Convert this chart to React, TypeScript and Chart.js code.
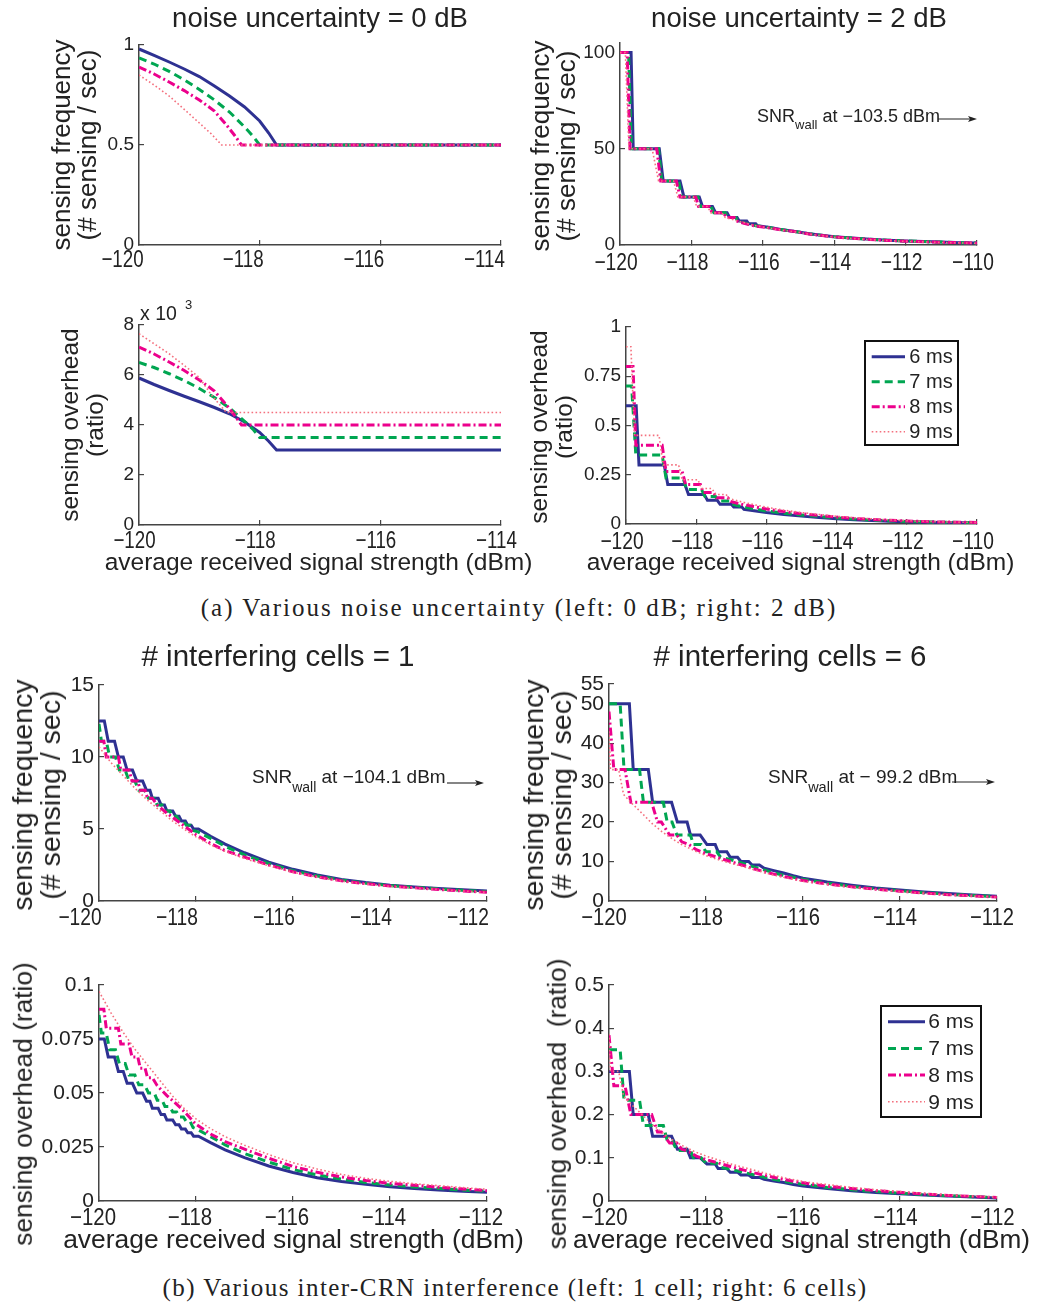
import React, { useEffect, useRef } from 'react';
import { Chart, registerables } from 'chart.js';
Chart.register(...registerables);

type P = [number, number][];

const FONT = "'Liberation Sans', Arial, Helvetica, sans-serif";
const SERIF = "'Liberation Serif', 'Times New Roman', serif";

const LABELS = ['6 ms', '7 ms', '8 ms', '9 ms'];
const COLORS = ['#2E3192', '#00A651', '#EC008C', '#F4707E'];
const DASHES: number[][] = [[], [8, 5], [8, 3, 2, 3], [1.6, 2.4]];
const WIDTHS = [3, 3, 3, 1.6];

// ---- tick arrays ----
const X_A1 = [-120, -118, -116, -114];
const X_A2 = [-120, -118, -116, -114, -112, -110];
const X_B = [-120, -118, -116, -114, -112];
const Y_A1 = [0, 0.5, 1];
const Y_A2 = [0, 50, 100];
const Y_A3 = [0, 2, 4, 6, 8];
const Y_A4 = [0, 0.25, 0.5, 0.75, 1];
const Y_B1 = [0, 5, 10, 15];
const Y_B2 = [0, 10, 20, 30, 40, 50, 55];
const Y_B3 = [0, 0.025, 0.05, 0.075, 0.1];
const Y_B4 = [0, 0.1, 0.2, 0.3, 0.4, 0.5];

// ---- (a) noise uncertainty = 0 dB : sensing frequency ----
const A1_6: P = [[-120,0.98],[-119.75,0.948],[-119.5,0.915],[-119.25,0.88],[-119,0.842],[-118.75,0.795],[-118.5,0.745],[-118.25,0.69],[-118,0.62],[-117.85,0.56],[-117.72,0.5],[-114,0.5]];
const A1_7: P = [[-120,0.935],[-119.75,0.905],[-119.5,0.868],[-119.25,0.826],[-119,0.778],[-118.75,0.725],[-118.5,0.665],[-118.25,0.59],[-118.1,0.54],[-118,0.5],[-114,0.5]];
const A1_8: P = [[-120,0.89],[-119.75,0.855],[-119.5,0.815],[-119.25,0.772],[-119,0.725],[-118.75,0.67],[-118.55,0.6],[-118.42,0.55],[-118.3,0.5],[-114,0.5]];
const A1_9: P = [[-120,0.85],[-119.75,0.8],[-119.5,0.745],[-119.25,0.678],[-119,0.61],[-118.8,0.555],[-118.63,0.5],[-114,0.5]];

// ---- noise uncertainty = 2 dB : sensing frequency ----
const A2_6: P = [[-120,100],[-119.69,100],[-119.63,50],[-118.9,50],[-118.79,33.3],[-118.32,33.3],[-118.21,25],[-117.78,25],[-117.69,20],[-117.41,20],[-117.32,16.7],[-117,16.7],[-116.93,14.3],[-116.72,14.3],[-116.66,12.5],[-116.45,12.5],[-116.4,11.1],[-116.2,11.1],[-116.15,10],[-115.8,9.1],[-115.5,8.1],[-115,6.8],[-114.7,5.8],[-114,4.3],[-113.5,3.6],[-113,3.0],[-112.5,2.5],[-112,2.1],[-111.5,1.8],[-111,1.5],[-110.5,1.2],[-110,1.0]];
const A2_7: P = [[-120,100],[-119.76,100],[-119.68,50],[-118.92,50],[-118.83,33.3],[-118.36,33.3],[-118.27,25],[-117.82,25],[-117.74,20],[-117.45,20],[-117.37,16.7],[-117.05,16.7],[-116.98,14.3],[-116.76,14.3],[-116.7,12.5],[-116.45,11.1],[-116.2,10],[-115.8,9.0],[-115.5,8.0],[-115,6.8],[-114.7,5.8],[-114,4.3],[-113.5,3.6],[-113,3.0],[-112.5,2.5],[-112,2.1],[-111.5,1.8],[-111,1.5],[-110.5,1.2],[-110,1.0]];
const A2_8: P = [[-120,100],[-119.8,100],[-119.72,50],[-118.97,50],[-118.86,33.3],[-118.42,33.3],[-118.32,25],[-117.88,25],[-117.8,20],[-117.5,20],[-117.42,16.7],[-117.1,16.7],[-117.02,14.3],[-116.8,14.3],[-116.74,12.5],[-116.5,11.1],[-116.25,10],[-115.85,9.0],[-115.5,7.9],[-115,6.7],[-114.7,5.7],[-114,4.2],[-113.5,3.5],[-113,2.9],[-112.5,2.4],[-112,2.0],[-111.5,1.7],[-111,1.4],[-110.5,1.2],[-110,1.0]];
const A2_9: P = [[-120,100],[-119.85,100],[-119.75,50],[-119.1,50],[-118.92,33.3],[-118.5,33.3],[-118.38,25],[-117.95,25],[-117.85,20],[-117.55,20],[-117.45,16.7],[-117.15,16.7],[-117.05,14.3],[-116.8,13.0],[-116.5,11.5],[-116.25,10.2],[-115.85,8.9],[-115.5,7.8],[-115,6.6],[-114.7,5.6],[-114,4.1],[-113.5,3.4],[-113,2.8],[-112.5,2.3],[-112,1.9],[-111.5,1.6],[-111,1.3],[-110.5,1.1],[-110,0.9]];

// ---- noise uncertainty = 0 dB : sensing overhead (x 10^-3) ----
const A3_6: P = [[-120,5.88],[-119.75,5.62],[-119.5,5.38],[-119.25,5.15],[-119,4.93],[-118.75,4.7],[-118.5,4.45],[-118.25,4.12],[-118,3.7],[-117.85,3.35],[-117.72,3.0],[-114,3.0]];
const A3_7: P = [[-120,6.5],[-119.75,6.3],[-119.5,6.05],[-119.25,5.78],[-119,5.46],[-118.75,5.1],[-118.5,4.68],[-118.25,4.15],[-118.1,3.8],[-118,3.5],[-114,3.5]];
const A3_8: P = [[-120,7.12],[-119.75,6.84],[-119.5,6.52],[-119.25,6.18],[-119,5.8],[-118.75,5.36],[-118.55,4.8],[-118.42,4.4],[-118.3,4.0],[-114,4.0]];
const A3_9: P = [[-120,7.65],[-119.75,7.25],[-119.5,6.85],[-119.25,6.38],[-119,5.9],[-118.8,5.2],[-118.55,4.5],[-114,4.5]];

// ---- noise uncertainty = 2 dB : sensing overhead ----
const A4_6: P = [[-120,0.6],[-119.71,0.6],[-119.63,0.3],[-118.91,0.3],[-118.81,0.2],[-118.32,0.2],[-118.22,0.15],[-117.77,0.15],[-117.68,0.12],[-117.4,0.12],[-117.32,0.1],[-117,0.1],[-116.93,0.086],[-116.7,0.086],[-116.64,0.075],[-116.4,0.068],[-116,0.058],[-115.5,0.048],[-115,0.04],[-114.5,0.033],[-114,0.027],[-113.5,0.022],[-113,0.018],[-112.5,0.014],[-112,0.011],[-111,0.008],[-110,0.006]];
const A4_7: P = [[-120,0.7],[-119.84,0.7],[-119.72,0.35],[-118.97,0.35],[-118.86,0.233],[-118.37,0.233],[-118.28,0.175],[-117.85,0.175],[-117.75,0.14],[-117.45,0.14],[-117.37,0.117],[-117.05,0.117],[-116.98,0.1],[-116.7,0.088],[-116.4,0.078],[-116,0.066],[-115.5,0.055],[-115,0.046],[-114.5,0.038],[-114,0.031],[-113.5,0.025],[-113,0.02],[-112.5,0.016],[-112,0.013],[-111,0.009],[-110,0.007]];
const A4_8: P = [[-120,0.8],[-119.8,0.8],[-119.72,0.4],[-118.97,0.4],[-118.86,0.267],[-118.4,0.267],[-118.3,0.2],[-117.88,0.2],[-117.8,0.16],[-117.5,0.16],[-117.42,0.133],[-117.1,0.133],[-117.02,0.114],[-116.7,0.1],[-116.4,0.09],[-116,0.076],[-115.5,0.063],[-115,0.052],[-114.5,0.043],[-114,0.035],[-113.5,0.028],[-113,0.023],[-112.5,0.019],[-112,0.015],[-111,0.01],[-110,0.008]];
const A4_9: P = [[-120,0.9],[-119.86,0.9],[-119.76,0.45],[-119.06,0.45],[-118.94,0.3],[-118.5,0.3],[-118.4,0.225],[-117.95,0.225],[-117.85,0.18],[-117.55,0.18],[-117.45,0.15],[-117.15,0.15],[-117.05,0.128],[-116.7,0.112],[-116.4,0.1],[-116,0.085],[-115.5,0.07],[-115,0.058],[-114.5,0.048],[-114,0.039],[-113.5,0.032],[-113,0.026],[-112.5,0.021],[-112,0.017],[-111,0.011],[-110,0.008]];

// ---- (b) # interfering cells = 1 : sensing frequency ----
const B1_6: P = [[-120,12.5],[-119.89,12.5],[-119.81,11.1],[-119.68,11.1],[-119.6,10],[-119.5,10],[-119.42,9.09],[-119.31,9.09],[-119.22,8.33],[-119.1,8.33],[-119.02,7.69],[-118.95,7.69],[-118.9,7.14],[-118.78,7.14],[-118.72,6.67],[-118.65,6.67],[-118.6,6.25],[-118.48,6.25],[-118.42,5.88],[-118.35,5.88],[-118.3,5.56],[-118.22,5.56],[-118.17,5.26],[-118.1,5.26],[-118.05,5.0],[-117.95,5.0],[-117.7,4.5],[-117.4,3.95],[-117,3.35],[-116.5,2.7],[-116,2.2],[-115.5,1.8],[-115,1.5],[-114.5,1.28],[-114,1.1],[-113.5,0.98],[-113,0.87],[-112.5,0.78],[-112,0.7]];
const B1_7: P = [[-120,12.3],[-119.95,11.1],[-119.85,11.1],[-119.78,10],[-119.66,10],[-119.58,9.09],[-119.46,9.09],[-119.38,8.33],[-119.26,8.33],[-119.18,7.69],[-119.06,7.69],[-118.98,7.14],[-118.86,7.14],[-118.8,6.67],[-118.7,6.67],[-118.64,6.25],[-118.54,6.25],[-118.48,5.88],[-118.4,5.88],[-118.34,5.56],[-118.26,5.56],[-118.2,5.26],[-118.12,5.26],[-118.06,4.9],[-117.96,4.8],[-117.7,4.35],[-117.4,3.8],[-117,3.2],[-116.5,2.6],[-116,2.1],[-115.5,1.74],[-115,1.45],[-114.5,1.24],[-114,1.07],[-113.5,0.95],[-113,0.84],[-112.5,0.74],[-112,0.65]];
const B1_8: P = [[-120,11.1],[-119.9,11.1],[-119.85,10],[-119.6,10],[-119.55,9.09],[-119.38,9.09],[-119.32,8.33],[-119.2,8.33],[-119.15,7.69],[-119.05,7.69],[-119,7.14],[-118.9,7.14],[-118.8,6.67],[-118.6,6.1],[-118.3,5.35],[-118,4.6],[-117.7,4.0],[-117.4,3.5],[-117,3.05],[-116.5,2.5],[-116,2.03],[-115.5,1.68],[-115,1.4],[-114.5,1.2],[-114,1.04],[-113.5,0.92],[-113,0.8],[-112.5,0.7],[-112,0.6]];
const B1_9: P = [[-120,10.7],[-119.75,9.6],[-119.5,8.7],[-119.25,7.8],[-119,7.0],[-118.75,6.3],[-118.5,5.6],[-118.25,5.0],[-118,4.45],[-117.7,3.9],[-117.4,3.45],[-117,2.95],[-116.5,2.45],[-116,2.0],[-115.5,1.66],[-115,1.38],[-114.5,1.18],[-114,1.02],[-113.5,0.9],[-113,0.8],[-112.5,0.7],[-112,0.6]];

// ---- # interfering cells = 6 : sensing frequency ----
const B2_6: P = [[-120,50],[-119.58,50],[-119.5,33.3],[-119.19,33.3],[-119.1,25],[-118.71,25],[-118.59,20],[-118.39,20],[-118.32,16.7],[-118.12,16.7],[-117.98,14.3],[-117.81,14.3],[-117.75,12.5],[-117.57,12.5],[-117.5,11.1],[-117.35,11.1],[-117.28,10],[-117.12,10],[-117.05,9.1],[-116.9,9.1],[-116.8,8.3],[-116.6,7.7],[-116.4,7.1],[-116.2,6.4],[-116,5.8],[-115.5,4.8],[-115,4.0],[-114.5,3.3],[-114,2.8],[-113.5,2.3],[-113,1.9],[-112.5,1.5],[-112,1.2]];
const B2_7: P = [[-120,50],[-119.77,50],[-119.69,33.3],[-119.37,33.3],[-119.29,25],[-118.88,25],[-118.8,20],[-118.7,20],[-118.6,16.7],[-118.32,16.7],[-118.26,14.3],[-118.1,14.3],[-118,12.5],[-117.78,12.5],[-117.7,11.1],[-117.5,10.5],[-117.2,9.4],[-117,8.6],[-116.7,7.5],[-116.4,6.5],[-116,5.5],[-115.5,4.5],[-115,3.7],[-114.5,3.1],[-114,2.6],[-113.5,2.1],[-113,1.7],[-112.5,1.4],[-112,1.1]];
const B2_8: P = [[-120,48],[-119.9,33.3],[-119.67,33.3],[-119.55,25],[-119.12,25],[-119,20],[-118.92,20],[-118.75,16.7],[-118.6,16.7],[-118.5,15],[-118.35,14.3],[-118.2,13],[-118,12],[-117.75,11],[-117.5,10],[-117.2,8.9],[-117,8.1],[-116.7,7.1],[-116.4,6.2],[-116,5.2],[-115.5,4.3],[-115,3.6],[-114.5,3.0],[-114,2.5],[-113.5,2.0],[-113,1.6],[-112.5,1.3],[-112,1.0]];
const B2_9: P = [[-120,43],[-119.97,33.3],[-119.8,33.3],[-119.7,27],[-119.55,25],[-119.3,22],[-119.1,19.5],[-118.9,17.5],[-118.7,15.8],[-118.5,14.3],[-118.25,12.8],[-118,11.5],[-117.75,10.5],[-117.5,9.6],[-117.2,8.6],[-117,7.9],[-116.7,6.9],[-116.4,6.0],[-116,5.0],[-115.5,4.2],[-115,3.5],[-114.5,2.9],[-114,2.4],[-113.5,1.95],[-113,1.55],[-112.5,1.25],[-112,1.0]];

// ---- # interfering cells = 1 : sensing overhead ----
const B3_6: P = [[-120,0.075],[-119.89,0.075],[-119.81,0.0667],[-119.68,0.0667],[-119.6,0.06],[-119.5,0.06],[-119.42,0.0545],[-119.31,0.0545],[-119.22,0.05],[-119.1,0.05],[-119.02,0.0462],[-118.95,0.0462],[-118.9,0.0429],[-118.78,0.0429],[-118.72,0.04],[-118.65,0.04],[-118.6,0.0375],[-118.48,0.0375],[-118.42,0.0353],[-118.35,0.0353],[-118.3,0.0333],[-118.22,0.0333],[-118.17,0.0316],[-118.1,0.0316],[-118.05,0.03],[-117.95,0.03],[-117.7,0.027],[-117.4,0.0237],[-117,0.0201],[-116.5,0.0162],[-116,0.0132],[-115.5,0.0108],[-115,0.009],[-114.5,0.0077],[-114,0.0066],[-113.5,0.0058],[-113,0.0051],[-112.5,0.0045],[-112,0.004]];
const B3_7: P = [[-120,0.0861],[-119.95,0.0778],[-119.85,0.0778],[-119.78,0.07],[-119.66,0.07],[-119.58,0.0636],[-119.46,0.0636],[-119.38,0.0583],[-119.26,0.0583],[-119.18,0.0538],[-119.06,0.0538],[-118.98,0.05],[-118.86,0.05],[-118.8,0.0467],[-118.7,0.0467],[-118.64,0.0438],[-118.54,0.0438],[-118.48,0.0412],[-118.4,0.0412],[-118.34,0.0389],[-118.26,0.0389],[-118.2,0.0368],[-118.12,0.0368],[-118.06,0.034],[-117.96,0.033],[-117.7,0.0298],[-117.4,0.026],[-117,0.022],[-116.5,0.018],[-116,0.0146],[-115.5,0.0121],[-115,0.0101],[-114.5,0.0086],[-114,0.0074],[-113.5,0.0065],[-113,0.0058],[-112.5,0.0051],[-112,0.0045]];
const B3_8: P = [[-120,0.0888],[-119.9,0.0888],[-119.85,0.08],[-119.6,0.08],[-119.55,0.0727],[-119.38,0.0727],[-119.32,0.0667],[-119.2,0.0667],[-119.15,0.0615],[-119.05,0.0615],[-119,0.0571],[-118.9,0.0571],[-118.8,0.0534],[-118.6,0.0488],[-118.3,0.0428],[-118,0.0355],[-117.7,0.031],[-117.4,0.0275],[-117,0.024],[-116.5,0.0198],[-116,0.016],[-115.5,0.0133],[-115,0.0111],[-114.5,0.0095],[-114,0.0082],[-113.5,0.0073],[-113,0.0064],[-112.5,0.0056],[-112,0.0048]];
const B3_9: P = [[-120,0.097],[-119.75,0.087],[-119.5,0.078],[-119.25,0.07],[-119,0.063],[-118.75,0.056],[-118.5,0.049],[-118.25,0.043],[-118,0.038],[-117.7,0.0335],[-117.4,0.0298],[-117,0.0258],[-116.5,0.0215],[-116,0.0177],[-115.5,0.0148],[-115,0.0123],[-114.5,0.0105],[-114,0.0091],[-113.5,0.008],[-113,0.0071],[-112.5,0.0062],[-112,0.0054]];

// ---- # interfering cells = 6 : sensing overhead ----
const B4_6: P = [[-120,0.3],[-119.58,0.3],[-119.5,0.2],[-119.19,0.2],[-119.1,0.15],[-118.71,0.15],[-118.59,0.12],[-118.39,0.12],[-118.32,0.1],[-118.12,0.1],[-117.98,0.0857],[-117.81,0.0857],[-117.75,0.075],[-117.57,0.075],[-117.5,0.0667],[-117.35,0.0667],[-117.28,0.06],[-117.12,0.06],[-117.05,0.0545],[-116.9,0.0545],[-116.8,0.05],[-116.6,0.046],[-116.4,0.0426],[-116.2,0.0384],[-116,0.0348],[-115.5,0.0288],[-115,0.024],[-114.5,0.0198],[-114,0.0168],[-113.5,0.0138],[-113,0.0114],[-112.5,0.009],[-112,0.0072]];
const B4_7: P = [[-120,0.35],[-119.77,0.35],[-119.69,0.233],[-119.37,0.233],[-119.29,0.175],[-118.88,0.175],[-118.8,0.14],[-118.7,0.14],[-118.6,0.117],[-118.32,0.117],[-118.26,0.1],[-118.1,0.1],[-118,0.0875],[-117.78,0.0875],[-117.7,0.0778],[-117.5,0.0735],[-117.2,0.0658],[-117,0.0602],[-116.7,0.0525],[-116.4,0.0455],[-116,0.0385],[-115.5,0.0315],[-115,0.0259],[-114.5,0.0217],[-114,0.0182],[-113.5,0.0147],[-113,0.0119],[-112.5,0.0098],[-112,0.0077]];
const B4_8: P = [[-120,0.384],[-119.9,0.267],[-119.67,0.267],[-119.55,0.2],[-119.12,0.2],[-119,0.16],[-118.92,0.16],[-118.75,0.134],[-118.6,0.134],[-118.5,0.12],[-118.35,0.114],[-118.2,0.104],[-118,0.096],[-117.75,0.088],[-117.5,0.08],[-117.2,0.071],[-117,0.065],[-116.7,0.057],[-116.4,0.05],[-116,0.042],[-115.5,0.034],[-115,0.029],[-114.5,0.024],[-114,0.02],[-113.5,0.016],[-113,0.013],[-112.5,0.0104],[-112,0.008]];
const B4_9: P = [[-120,0.387],[-119.97,0.3],[-119.8,0.3],[-119.7,0.243],[-119.55,0.225],[-119.3,0.198],[-119.1,0.176],[-118.9,0.158],[-118.7,0.142],[-118.5,0.129],[-118.25,0.115],[-118,0.104],[-117.75,0.095],[-117.5,0.086],[-117.2,0.077],[-117,0.071],[-116.7,0.062],[-116.4,0.054],[-116,0.045],[-115.5,0.038],[-115,0.0315],[-114.5,0.026],[-114,0.0216],[-113.5,0.0176],[-113,0.014],[-112.5,0.0113],[-112,0.009]];

interface LegendSpec { right: number; top: number; w: number; h: number; first: number; step: number; l1: number; l2: number; tx: number; size: number; }
interface PanelSpec {
  left: number; top: number; right: number; bottom: number;
  xMin: number; xMax: number; yMin: number; yMax: number;
  xTicks: number[]; yTicks: number[]; series: P[];
  tick: number; xTick: number; xScaleX: number; xOff: number; xCy: number; legend?: LegendSpec;
}

const ML = 72, MT = 14, MR = 24, MB = 40;

function legendPlugin(lg?: LegendSpec) {
  return {
    id: 'boxLegend',
    afterDatasetsDraw(chart: any) {
      if (!lg) return;
      const { ctx, chartArea } = chart;
      const x0 = chartArea.right - lg.right - lg.w;
      const y0 = chartArea.top + lg.top;
      ctx.save();
      ctx.fillStyle = '#fff';
      ctx.fillRect(x0, y0, lg.w, lg.h);
      ctx.setLineDash([]);
      ctx.strokeStyle = '#111';
      ctx.lineWidth = 2;
      ctx.strokeRect(x0, y0, lg.w, lg.h);
      chart.data.datasets.forEach((ds: any, i: number) => {
        const y = y0 + lg.first + i * lg.step;
        ctx.strokeStyle = ds.borderColor;
        ctx.lineWidth = ds.borderWidth;
        ctx.setLineDash(ds.borderDash || []);
        ctx.beginPath();
        ctx.moveTo(x0 + lg.l1, y);
        ctx.lineTo(x0 + lg.l2, y);
        ctx.stroke();
        ctx.setLineDash([]);
        ctx.fillStyle = '#222';
        ctx.font = `${lg.size}px ${FONT}`;
        ctx.textBaseline = 'middle';
        ctx.textAlign = 'left';
        ctx.fillText(ds.label, x0 + lg.tx, y + 1);
      });
      ctx.restore();
    },
  };
}

// x tick labels drawn at the x scale's tick pixels in a horizontally condensed face
function xLabelPlugin(spec: PanelSpec) {
  return {
    id: 'xLabels',
    afterDraw(chart: any) {
      const { ctx, chartArea } = chart;
      const sx = chart.scales.x;
      ctx.save();
      ctx.fillStyle = '#222';
      ctx.font = `${spec.xTick}px ${FONT}`;
      ctx.textAlign = 'center';
      ctx.textBaseline = 'alphabetic';
      spec.xTicks.forEach((v) => {
        const px = sx.getPixelForValue(v) + spec.xOff;
        const base = chartArea.bottom + spec.xCy + 0.358 * spec.xTick;
        const label = v < 0 ? '\u2212' + Math.abs(v) : String(v);
        ctx.save();
        ctx.translate(px, base);
        ctx.scale(spec.xScaleX, 1);
        ctx.fillText(label, 0, 0);
        ctx.restore();
      });
      ctx.restore();
    },
  };
}

function Panel({ spec }: { spec: PanelSpec }) {
  const ref = useRef<HTMLCanvasElement>(null);
  const w = spec.right - spec.left + ML + MR;
  const h = spec.bottom - spec.top + MT + MB;
  useEffect(() => {
    const datasets = spec.series.map((s, i) => ({
      label: LABELS[i],
      data: s.map(([x, y]) => ({ x, y })),
      borderColor: COLORS[i],
      borderDash: DASHES[i],
      borderWidth: WIDTHS[i],
      pointRadius: 0,
      fill: false,
      tension: 0,
      order: 4 - i,
    }));
    const chart = new Chart(ref.current as HTMLCanvasElement, {
      type: 'line',
      data: { datasets } as any,
      plugins: [legendPlugin(spec.legend), xLabelPlugin(spec)],
      options: {
        responsive: false,
        animation: false,
        devicePixelRatio: 1,
        layout: { padding: { top: MT, right: MR, left: 0, bottom: 0 } },
        plugins: { legend: { display: false }, tooltip: { enabled: false } },
        scales: {
          x: {
            type: 'linear',
            min: spec.xMin,
            max: spec.xMax,
            afterBuildTicks: (s: any) => { s.ticks = spec.xTicks.map((v) => ({ value: v })); },
            afterFit: (s: any) => { s.height = MB; s.paddingLeft = 0; s.paddingRight = 0; },
            grid: { drawOnChartArea: false, drawTicks: true, tickLength: -5, color: '#444', lineWidth: 1.2 },
            border: { display: true, color: '#444', width: 1.5 },
            ticks: { display: false, autoSkip: false, maxRotation: 0, minRotation: 0 },
          },
          y: {
            type: 'linear',
            min: spec.yMin,
            max: spec.yMax,
            afterBuildTicks: (s: any) => { s.ticks = spec.yTicks.map((v) => ({ value: v })); },
            afterFit: (s: any) => { s.width = ML; s.paddingTop = 0; s.paddingBottom = 0; },
            grid: { drawOnChartArea: false, drawTicks: true, tickLength: -5, color: '#444', lineWidth: 1.2 },
            border: { display: true, color: '#444', width: 1.5 },
            ticks: {
              autoSkip: false, padding: 10, color: '#222', font: { family: FONT, size: spec.tick },
              callback: (v: any) => String(v),
            },
          },
        },
      } as any,
    });
    return () => chart.destroy();
  }, []);
  return (
    <canvas
      ref={ref}
      width={w}
      height={h}
      style={{ position: 'absolute', left: spec.left - ML, top: spec.top - MT, width: w, height: h }}
    />
  );
}

function Txt({ x, y, size, rot, lh, children, family }: any) {
  return (
    <div
      style={{
        position: 'absolute', left: x, top: y,
        transform: `translate(-50%,-50%)${rot ? ' rotate(-90deg)' : ''}`,
        fontFamily: family || FONT, fontSize: size, lineHeight: lh ? `${lh}px` : 1,
        whiteSpace: 'pre', textAlign: 'center', color: '#222',
      }}
    >
      {children}
    </div>
  );
}

function Snr({ x, baseline, size, sub, subDy, rest, ax1, ax2, ay }: any) {
  return (
    <>
      <div style={{ position: 'absolute', left: x, top: baseline - 0.8465 * size, fontFamily: FONT, fontSize: size, lineHeight: 1, whiteSpace: 'pre', color: '#222' }}>
        SNR<span style={{ fontSize: sub, position: 'relative', top: subDy }}>wall</span>{rest}
      </div>
      <svg style={{ position: 'absolute', left: ax1, top: ay - 5 }} width={ax2 - ax1 + 2} height={10}>
        <line x1={0} y1={5} x2={ax2 - ax1 - 6} y2={5} stroke="#222" strokeWidth={1.1} />
        <polygon points={`${ax2 - ax1 - 9},2 ${ax2 - ax1},5 ${ax2 - ax1 - 9},8 ${ax2 - ax1 - 7},5`} fill="#222" />
      </svg>
    </>
  );
}

const PANELS: PanelSpec[] = [
  { left: 139, top: 45, right: 501, bottom: 245, xMin: -120, xMax: -114, yMin: 0, yMax: 1, xTicks: X_A1, yTicks: Y_A1, series: [A1_6, A1_7, A1_8, A1_9], tick: 19, xTick: 24, xScaleX: 0.78, xOff: -16.5, xCy: 13.5 },
  { left: 620, top: 43, right: 977, bottom: 245, xMin: -120, xMax: -110, yMin: 0, yMax: 105, xTicks: X_A2, yTicks: Y_A2, series: [A2_6, A2_7, A2_8, A2_9], tick: 19, xTick: 24, xScaleX: 0.8, xOff: -4, xCy: 16 },
  { left: 139, top: 325, right: 501, bottom: 525, xMin: -120, xMax: -114, yMin: 0, yMax: 8, xTicks: X_A1, yTicks: Y_A3, series: [A3_6, A3_7, A3_8, A3_9], tick: 19, xTick: 24, xScaleX: 0.78, xOff: -4.5, xCy: 14 },
  { left: 626, top: 327, right: 977, bottom: 524, xMin: -120, xMax: -110, yMin: 0, yMax: 1, xTicks: X_A2, yTicks: Y_A4, series: [A4_6, A4_7, A4_8, A4_9], tick: 19, xTick: 24, xScaleX: 0.8, xOff: -4, xCy: 16.5,
    legend: { right: 19, top: 14, w: 93, h: 104, first: 15.7, step: 25, l1: 6.7, l2: 40, tx: 44.3, size: 20 } },
  { left: 99, top: 685, right: 487, bottom: 901, xMin: -120, xMax: -112, yMin: 0, yMax: 15, xTicks: X_B, yTicks: Y_B1, series: [B1_6, B1_7, B1_8, B1_9], tick: 21, xTick: 24, xScaleX: 0.8, xOff: -19, xCy: 15.5 },
  { left: 609, top: 684, right: 997, bottom: 901, xMin: -120, xMax: -112, yMin: 0, yMax: 55, xTicks: X_B, yTicks: Y_B2, series: [B2_6, B2_7, B2_8, B2_9], tick: 21, xTick: 24, xScaleX: 0.84, xOff: -5, xCy: 15.5 },
  { left: 99, top: 985, right: 487, bottom: 1201, xMin: -120, xMax: -112, yMin: 0, yMax: 0.1, xTicks: X_B, yTicks: Y_B3, series: [B3_6, B3_7, B3_8, B3_9], tick: 21, xTick: 24, xScaleX: 0.85, xOff: -6, xCy: 15.5 },
  { left: 609, top: 985, right: 997, bottom: 1201, xMin: -120, xMax: -112, yMin: 0, yMax: 0.5, xTicks: X_B, yTicks: Y_B4, series: [B4_6, B4_7, B4_8, B4_9], tick: 21, xTick: 24, xScaleX: 0.85, xOff: -4.5, xCy: 15.5,
    legend: { right: 16, top: 21, w: 100, h: 111, first: 15.7, step: 26.7, l1: 7, l2: 44, tx: 47.3, size: 21 } },
];

const XLAB = 'average received signal strength (dBm)';

export default function App() {
  return (
    <div style={{ position: 'absolute', left: 0, top: 0, width: 1039, height: 1305, background: '#fff', overflow: 'hidden' }}>
      {PANELS.map((p, i) => <Panel key={i} spec={p} />)}

      {/* titles */}
      <Txt x={320} y={17.5} size={27.5}>noise uncertainty = 0 dB</Txt>
      <Txt x={799} y={17.5} size={27.5}>noise uncertainty = 2 dB</Txt>
      <Txt x={278} y={656} size={29.5}># interfering cells = 1</Txt>
      <Txt x={790} y={656} size={29.5}># interfering cells = 6</Txt>

      {/* y-axis titles */}
      <Txt x={74} y={145} size={26} lh={25.5} rot>{'sensing frequency\n(# sensing / sec)'}</Txt>
      <Txt x={553} y={146} size={26} lh={25.5} rot>{'sensing frequency\n(# sensing / sec)'}</Txt>
      <Txt x={82} y={425} size={24.5} lh={25} rot>{'sensing overhead\n(ratio)'}</Txt>
      <Txt x={551} y={427} size={24.5} lh={25} rot>{'sensing overhead\n(ratio)'}</Txt>
      <Txt x={36} y={795} size={28.5} lh={28} rot>{'sensing frequency\n(# sensing / sec)'}</Txt>
      <Txt x={547} y={795} size={28.5} lh={28} rot>{'sensing frequency\n(# sensing / sec)'}</Txt>
      <Txt x={22.5} y={1104} size={26.3} rot>sensing overhead (ratio)</Txt>
      <Txt x={557} y={1104} size={26.3} rot>{'sensing overhead  (ratio)'}</Txt>

      {/* x-axis titles */}
      <Txt x={318.5} y={561.5} size={24.5}>{XLAB}</Txt>
      <Txt x={800.5} y={561.5} size={24.5}>{XLAB}</Txt>
      <Txt x={293.5} y={1239} size={26.4}>{XLAB}</Txt>
      <Txt x={801.5} y={1239} size={26.2}>{XLAB}</Txt>

      {/* exponent label */}
      <div style={{ position: 'absolute', left: 140, top: 320.7 - 0.8465 * 19.5, fontFamily: FONT, fontSize: 19.5, lineHeight: 1, color: '#222' }}>x 10</div>
      <div style={{ position: 'absolute', left: 185, top: 309 - 0.8465 * 13, fontFamily: FONT, fontSize: 13, lineHeight: 1, color: '#222' }}>3</div>

      {/* SNR wall annotations */}
      <Snr x={757} baseline={122.7} size={18} sub={13} subDy={7} rest={' at \u2212103.5 dBm'} ax1={938} ax2={977} ay={119.3} />
      <Snr x={252} baseline={783.3} size={19} sub={14} subDy={9} rest={' at \u2212104.1 dBm'} ax1={447} ax2={484} ay={782.7} />
      <Snr x={768} baseline={782.7} size={19} sub={14.5} subDy={9} rest={' at \u2212 99.2 dBm'} ax1={952} ax2={995} ay={781.7} />

      {/* captions */}
      <Txt x={519} y={607} size={25} family={SERIF}><span style={{ letterSpacing: 2 }}>(a) Various noise uncertainty (left: 0 dB; right: 2 dB)</span></Txt>
      <Txt x={515} y={1287} size={25} family={SERIF}><span style={{ letterSpacing: 1.45 }}>(b) Various inter-CRN interference (left: 1 cell; right: 6 cells)</span></Txt>
    </div>
  );
}
